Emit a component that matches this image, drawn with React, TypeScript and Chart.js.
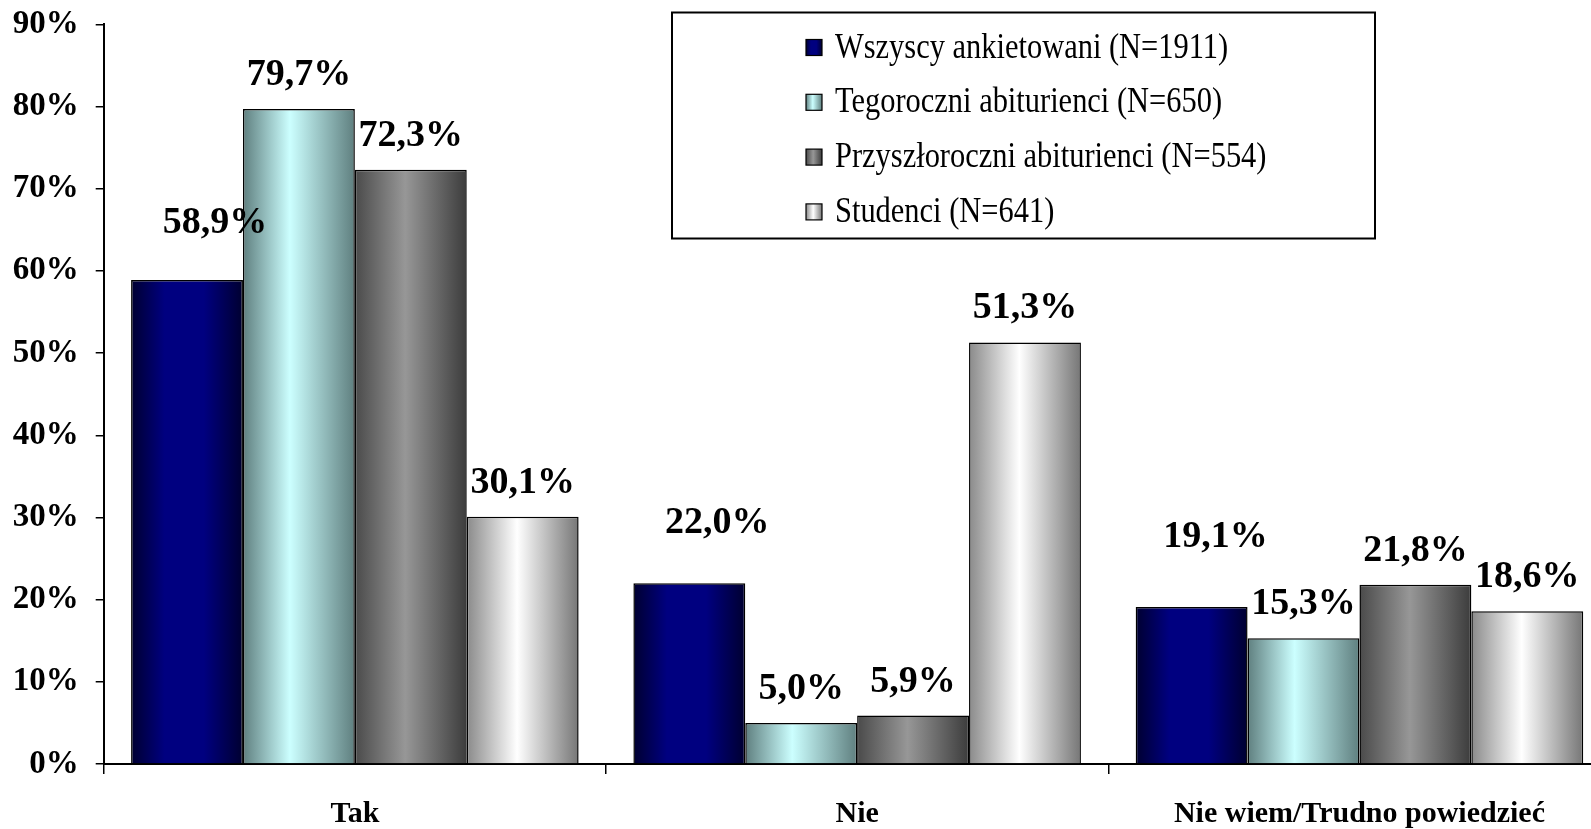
import React, { useEffect, useRef } from 'react';
import { Chart, registerables } from 'chart.js';

Chart.register(...registerables);

const categories = ['Tak', 'Nie', 'Nie wiem/Trudno powiedzieć'];
const seriesNames = [
  'Wszyscy ankietowani (N=1911)',
  'Tegoroczni abiturienci (N=650)',
  'Przyszłoroczni abiturienci (N=554)',
  'Studenci (N=641)',
];
const wszyscy = [58.9, 22.0, 19.1];
const tegoroczni = [79.7, 5.0, 15.3];
const przyszloroczni = [72.3, 5.9, 21.8];
const studenci = [30.1, 51.3, 18.6];
const yMax = 90;
const yStep = 10;

const FONT = "'Liberation Serif', 'Times New Roman', serif";
const CAT_PCT = 0.891;

type Stops = [number, string][];
const gradients: Stops[] = [
  [[0, '#000030'], [0.3, '#000080'], [0.65, '#000080'], [1, '#000030']],
  [[0, '#5f7f7f'], [0.42, '#ccffff'], [1, '#5f7f7f']],
  [[0, '#4a4a4a'], [0.45, '#979797'], [1, '#3c3c3c']],
  [[0, '#8a8a8a'], [0.45, '#ffffff'], [1, '#767676']],
];

function makeGrad(ctx: CanvasRenderingContext2D, x0: number, x1: number, stops: Stops) {
  const g = ctx.createLinearGradient(x0, 0, x1, 0);
  stops.forEach(([o, c]) => g.addColorStop(o, c));
  return g;
}

function barFill(stops: Stops) {
  return (c: any) => {
    const chart = c.chart;
    const xs = chart.scales && chart.scales.x;
    if (!xs || c.type !== 'data' || !chart.chartArea) return stops[Math.floor(stops.length / 2)][1];
    const n = chart.data.datasets.length;
    const catW = xs.width / categories.length;
    const barW = (catW * CAT_PCT) / n;
    const center = xs.getPixelForValue(c.dataIndex);
    const left = center + (c.datasetIndex - n / 2) * barW;
    return makeGrad(chart.ctx, left, left + barW, stops);
  };
}

const labelPlugin = {
  id: 'valueLabels',
  afterDatasetsDraw(chart: any) {
    const ctx = chart.ctx;
    ctx.save();
    ctx.font = `bold 38px ${FONT}`;
    ctx.fillStyle = '#000';
    ctx.textAlign = 'center';
    ctx.textBaseline = 'alphabetic';
    chart.data.datasets.forEach((ds: any, di: number) => {
      const meta = chart.getDatasetMeta(di);
      meta.data.forEach((el: any, i: number) => {
        const v = ds.data[i];
        const nudge = (ds.labelNudge && ds.labelNudge[i]) || { dx: 0, dy: 0 };
        const txt = v.toFixed(1).replace('.', ',') + '%';
        ctx.fillText(txt, el.x + nudge.dx, el.y - 24 - nudge.dy);
      });
    });
    ctx.restore();
  },
};

const legendPlugin = {
  id: 'boxLegend',
  afterDraw(chart: any) {
    const ctx = chart.ctx;
    const box = { left: 672, top: 12.5, right: 1375, bottom: 238.5 };
    ctx.save();
    ctx.fillStyle = '#fff';
    ctx.fillRect(box.left, box.top, box.right - box.left, box.bottom - box.top);
    ctx.lineWidth = 2;
    ctx.strokeStyle = '#000';
    ctx.strokeRect(box.left, box.top, box.right - box.left, box.bottom - box.top);
    chart.data.datasets.forEach((ds: any, i: number) => {
      const cy = 47.5 + i * 54.8;
      const mx = 806;
      const ms = 16;
      ctx.fillStyle = makeGrad(ctx, mx, mx + ms, gradients[i]);
      ctx.fillRect(mx, cy - ms / 2, ms, ms);
      ctx.lineWidth = 1.2;
      ctx.strokeStyle = '#000';
      ctx.strokeRect(mx, cy - ms / 2, ms, ms);
      ctx.save();
      ctx.translate(835, cy);
      ctx.scale(0.87, 1);
      ctx.fillStyle = '#000';
      ctx.font = `35px ${FONT}`;
      ctx.textAlign = 'left';
      ctx.textBaseline = 'middle';
      ctx.fillText(ds.label, 0, 1);
      ctx.restore();
    });
    ctx.restore();
  },
};

export default function App() {
  const ref = useRef<HTMLCanvasElement | null>(null);

  useEffect(() => {
    if (!ref.current) return;
    const seriesData = [wszyscy, tegoroczni, przyszloroczni, studenci];
    const chart = new Chart(ref.current, {
      type: 'bar',
      data: {
        labels: categories,
        datasets: seriesData.map((d, i) => ({
          label: seriesNames[i],
          data: d,
          backgroundColor: barFill(gradients[i]),
          borderColor: '#000',
          borderWidth: 1.5,
          categoryPercentage: CAT_PCT,
          barPercentage: 1,
          ...(i === 0
            ? { labelNudge: [{ dx: 28, dy: 23 }, { dx: 28, dy: 26 }, { dx: 24, dy: 36 }] }
            : {}),
        })) as any,
      },
      options: {
        animation: false,
        responsive: false,
        maintainAspectRatio: false,
        layout: { padding: { left: 0, right: 19.4, top: 24.4, bottom: 0 } },
        plugins: {
          legend: { display: false },
          tooltip: { enabled: false },
          title: { display: false },
        },
        scales: {
          x: {
            offset: true,
            grid: {
              offset: true,
              drawOnChartArea: false,
              drawTicks: true,
              tickLength: 10,
              color: '#000',
              lineWidth: 1.5,
            },
            border: { display: true, color: '#000', width: 2 },
            ticks: {
              color: '#000',
              font: { family: FONT, size: 30, weight: 'bold' },
              padding: 22,
              maxRotation: 0,
              autoSkip: false,
            },
            afterFit: (s: any) => {
              s.height = 65;
              s.paddingLeft = 0;
              s.paddingRight = 0;
            },
          },
          y: {
            min: 0,
            max: yMax,
            grid: {
              drawOnChartArea: false,
              drawTicks: true,
              tickLength: 8,
              color: '#000',
              lineWidth: 1.5,
            },
            border: { display: true, color: '#000', width: 2 },
            ticks: {
              stepSize: yStep,
              color: '#000',
              font: { family: FONT, size: 33, weight: 'bold' },
              padding: 17,
              callback: (v: any) => `${v}%`,
            },
            afterFit: (s: any) => {
              s.width = 103.7;
              s.paddingTop = 0;
              s.paddingBottom = 0;
            },
          },
        },
      } as any,
      plugins: [labelPlugin, legendPlugin],
    });
    return () => chart.destroy();
  }, []);

  return (
    <div
      style={{
        position: 'fixed',
        left: 0,
        top: 0,
        width: 1591,
        height: 829,
        overflow: 'hidden',
        background: '#fff',
      }}
    >
      <canvas ref={ref} width={1630} height={829} style={{ display: 'block' }} />
    </div>
  );
}
